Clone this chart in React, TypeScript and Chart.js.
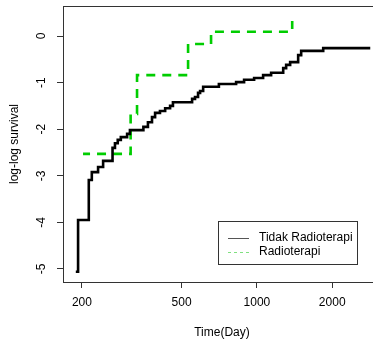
import React, { useEffect, useRef } from "react";
import { Chart, registerables } from "chart.js";

Chart.register(...registerables);

const seriesNames = ["Tidak Radioterapi", "Radioterapi"];

const timesTidak = [189, 193, 213, 219, 232, 243, 265, 271, 278, 286, 303, 311, 352, 367, 381, 392, 410, 430, 450, 462, 551, 566, 582, 593, 610, 705, 826, 889, 975, 1059, 1140, 1274, 1309, 1358, 1462, 1503, 1841, 2838];
const survTidak = [-5.06, -3.95, -3.09, -2.92, -2.81, -2.68, -2.4, -2.3, -2.23, -2.17, -2.1, -2.02, -1.95, -1.85, -1.74, -1.65, -1.61, -1.55, -1.5, -1.42, -1.35, -1.31, -1.22, -1.18, -1.09, -1.03, -0.99, -0.94, -0.9, -0.84, -0.79, -0.69, -0.62, -0.56, -0.41, -0.32, -0.26, -0.26];

const timesRadio = [202, 313, 332, 531, 656, 1384];
const survRadio = [-2.53, -1.67, -0.84, -0.17, 0.09, 0.32];

const xTicks = [200, 500, 1000, 2000];
const yTicks = [-5, -4, -3, -2, -1, 0];

const xTitle = "Time(Day)";
const yTitle = "log-log survival";

const FONT = "'Liberation Sans', Arial, sans-serif";
const TEXT = "#000000";
const BLACK = "#000000";
const GREEN = "#00CD00";

export default function App() {
  const ref = useRef<HTMLCanvasElement | null>(null);

  useEffect(() => {
    const canvas = ref.current;
    if (!canvas) return;

    const framePlugin = {
      id: "frame",
      afterDraw(chart: any) {
        const { ctx, chartArea } = chart;
        const { left, top, right, bottom } = chartArea;
        ctx.save();
        ctx.strokeStyle = "#333333";
        ctx.lineWidth = 1;
        ctx.strokeRect(Math.round(left) + 0.5, Math.round(top) + 0.5, Math.round(right - left), Math.round(bottom - top));

        // axis titles
        ctx.fillStyle = TEXT;
        ctx.font = `12px ${FONT}`;
        ctx.textAlign = "center";
        ctx.textBaseline = "middle";
        ctx.fillText(xTitle, (left + right) / 2, 333);
        ctx.save();
        ctx.translate(15, (top + bottom) / 2);
        ctx.rotate(-Math.PI / 2);
        ctx.fillText(yTitle, 0, 0);
        ctx.restore();

        // legend
        const lx = 218, ly = 221, lw = 139, lh = 43;
        ctx.fillStyle = "#ffffff";
        ctx.fillRect(lx, ly, lw, lh);
        ctx.strokeStyle = "#333333";
        ctx.lineWidth = 1;
        ctx.strokeRect(lx + 0.5, ly + 0.5, lw, lh);
        const rows = [238, 252];
        const dashes = [[], [3, 3]];
        rows.forEach((ry, i) => {
          ctx.beginPath();
          ctx.setLineDash(dashes[i]);
          ctx.strokeStyle = i === 0 ? "#555555" : "#7fe07f";
          ctx.lineWidth = 1;
          ctx.moveTo(228, ry + 0.5);
          ctx.lineTo(249, ry + 0.5);
          ctx.stroke();
          ctx.setLineDash([]);
          ctx.fillStyle = TEXT;
          ctx.font = `12px ${FONT}`;
          ctx.textAlign = "left";
          ctx.textBaseline = "middle";
          ctx.fillText(seriesNames[i], 259, ry);
        });
        ctx.restore();
      },
    };

    const chart = new Chart(canvas, {
      type: "line",
      data: {
        datasets: [
          {
            label: seriesNames[0],
            data: timesTidak.map((t, i) => ({ x: t, y: survTidak[i] })),
            borderColor: BLACK,
            borderWidth: 2.6,
            stepped: true,
            pointRadius: 0,
            fill: false,
          },
          {
            label: seriesNames[1],
            data: timesRadio.map((t, i) => ({ x: t, y: survRadio[i] })),
            borderColor: GREEN,
            borderWidth: 2.6,
            borderDash: [9, 7],
            borderDashOffset: 2,
            stepped: true,
            pointRadius: 0,
            fill: false,
          },
        ],
      },
      options: {
        responsive: false,
        animation: false,
        devicePixelRatio: 1,
        layout: { padding: { top: 6, right: 9, left: 0, bottom: 0 } },
        plugins: {
          legend: { display: false },
          tooltip: { enabled: false },
        },
        scales: {
          x: {
            type: "logarithmic",
            min: 168,
            max: 3133,
            afterBuildTicks: (s: any) => {
              s.ticks = xTicks.map((v) => ({ value: v }));
            },
            afterFit: (s: any) => {
              s.height = 59;
              s.paddingLeft = 0;
              s.paddingRight = 0;
            },
            ticks: {
              autoSkip: false,
              maxRotation: 0,
              minRotation: 0,
              padding: 7,
              color: TEXT,
              font: { family: FONT, size: 12 },
              callback: (v: any) => String(v),
            },
            grid: { drawOnChartArea: false, drawTicks: true, tickLength: 6, color: "#333333" },
            border: { display: false },
          },
          y: {
            type: "linear",
            min: -5.279,
            max: 0.644,
            afterBuildTicks: (s: any) => {
              s.ticks = yTicks.map((v) => ({ value: v }));
            },
            afterFit: (s: any) => {
              s.width = 63;
              s.paddingTop = 0;
              s.paddingBottom = 0;
            },
            ticks: {
              autoSkip: false,
              minRotation: 90,
              maxRotation: 90,
              crossAlign: "center",
              padding: 10,
              color: TEXT,
              font: { family: FONT, size: 12 },
              callback: (v: any) => String(v),
            },
            grid: { drawOnChartArea: false, drawTicks: true, tickLength: 6, color: "#333333" },
            border: { display: false },
          },
        },
      },
      plugins: [framePlugin],
    });

    return () => chart.destroy();
  }, []);

  return (
    <div style={{ width: 373, height: 341, overflow: "hidden", position: "relative", background: "#fff" }}>
      <style>{`body{margin:0}`}</style>
      <canvas ref={ref} width={390} height={341} style={{ width: 390, height: 341, display: "block" }} />
    </div>
  );
}
